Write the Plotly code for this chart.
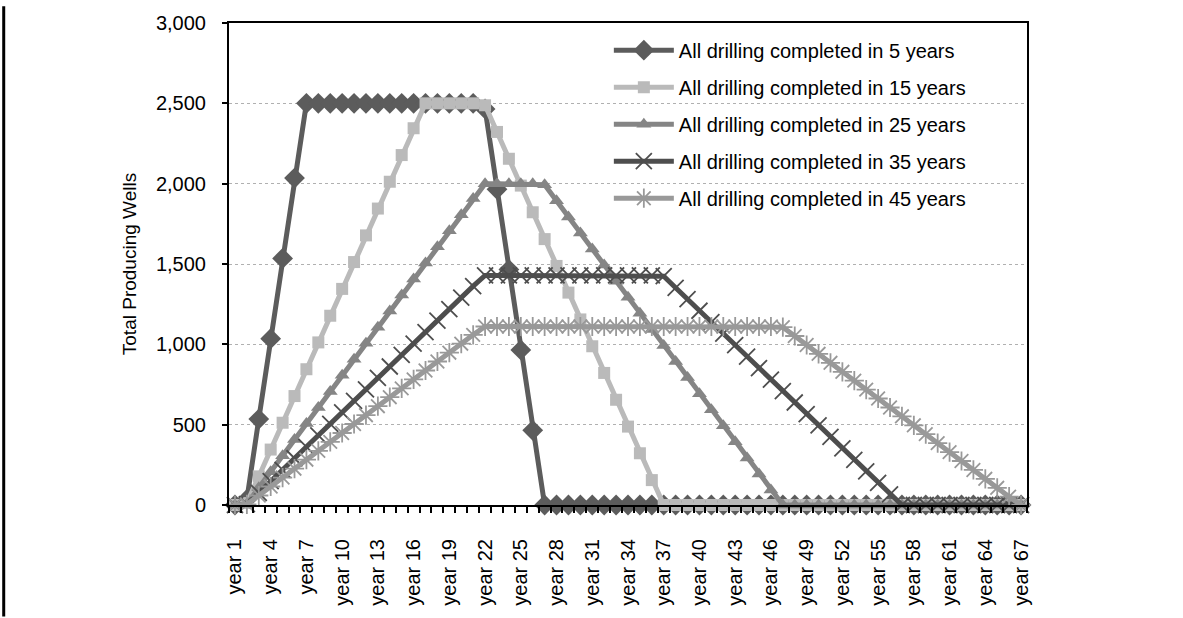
import plotly.graph_objects as go

categories = ["year %d" % i for i in range(1, 68)]

s5 = [0, 35, 535, 1035, 1535, 2035] + [2500] * 15 + [2465, 1965, 1465, 965, 465] + [0] * 41
s15 = [0, 12, 178, 345, 512, 678, 845, 1012, 1178, 1345, 1512, 1678, 1845, 2012, 2178, 2345,
       2500, 2500, 2500, 2500, 2500,
       2488, 2322, 2155, 1988, 1822, 1655, 1488, 1322, 1155, 988, 822, 655, 488, 322, 155] + [0] * 31
s25 = [0, 7, 107, 207, 307, 407, 507, 607, 707, 807, 907, 1007, 1107, 1207, 1307, 1407, 1507,
       1607, 1707, 1807, 1907, 2000, 2000, 2000, 2000, 2000, 1993, 1893, 1793, 1693, 1593, 1493,
       1393, 1293, 1193, 1093, 993, 893, 793, 693, 593, 493, 393, 293, 193, 93] + [0] * 21
s35 = [0, 5, 76, 148, 219, 291, 362, 434, 505, 576, 648, 719, 791, 862, 934, 1005, 1076, 1148,
       1219, 1291, 1362] + [1429] * 15 + [1424, 1352, 1281, 1209, 1138, 1066, 995, 924, 852, 781,
       709, 638, 566, 495, 424, 352, 281, 209, 138, 66] + [0] * 11
s45 = [0, 4, 59, 115, 171, 226, 282, 337, 393, 448, 504, 559, 615, 671, 726, 782, 837, 893, 948,
       1004, 1059] + [1111] * 25 + [1107, 1052, 996, 941, 885, 829, 774, 718, 663, 607, 552, 496,
       441, 385, 329, 274, 218, 163, 107, 52, 0]

series_names = ["All drilling completed in 5 years", "All drilling completed in 15 years",
                "All drilling completed in 25 years", "All drilling completed in 35 years",
                "All drilling completed in 45 years"]
series_values = [s5, s15, s25, s35, s45]
y_ticks = [0, 500, 1000, 1500, 2000, 2500, 3000]

colors = ["#5c5c5c", "#bababa", "#858585", "#4e4e4e", "#999999"]
symbols = ["diamond", "square", "triangle-up", "x-thin-open", "asterisk-open"]
msizes = [16, 12, 13, 16, 16]

xpos = list(range(1, len(categories) + 1))

fig = go.Figure()
for i, (name, vals) in enumerate(zip(series_names, series_values)):
    thin = symbols[i].endswith("open")
    fig.add_trace(go.Scatter(
        x=xpos, y=vals, name=name, mode="lines+markers",
        line=dict(color=colors[i], width=5),
        marker=dict(symbol=symbols[i], size=msizes[i], color=colors[i],
                    line=dict(color=colors[i], width=1.8 if thin else 0)),
        cliponaxis=False, legendgroup="g%d" % i,
    ))

font = "Liberation Sans, Arial, sans-serif"
fig.update_layout(
    width=1183, height=618,
    margin=dict(l=229, r=156, t=17, b=113),
    paper_bgcolor="white", plot_bgcolor="white",
    font=dict(family=font, size=20, color="black"),
    showlegend=True,
    legend=dict(x=0.476, y=0.984, xanchor="left", yanchor="top",
                bgcolor="rgba(0,0,0,0)", font=dict(size=20, family=font),
                tracegroupgap=8, traceorder="grouped", itemwidth=60),
    xaxis=dict(
        range=[0.5, len(categories) + 0.5],
        tickmode="array", tickvals=xpos[::3], ticktext=categories[::3],
        tickangle=-90, ticks="", showgrid=False, zeroline=False,
        ticklabelstandoff=24,
        showline=True, linecolor="black", linewidth=2, mirror=True,
        tickfont=dict(size=20, family=font),
        minor=dict(tickmode="array", tickvals=[v - 0.5 for v in xpos] + [xpos[-1] + 0.5],
                   ticks="outside", ticklen=6, tickcolor="black", tickwidth=1.5, showgrid=False),
    ),
    yaxis=dict(
        range=[0, 3000], tickmode="array", tickvals=y_ticks, tickformat=",",
        ticks="outside", ticklen=5, tickcolor="black", tickwidth=1.5,
        ticklabelstandoff=12,
        showgrid=True, gridcolor="#b0b0b0", griddash="dot", gridwidth=1.2,
        zeroline=False, showline=True, linecolor="black", linewidth=2, mirror=True,
        title=dict(text="Total Producing Wells", font=dict(size=19, family=font), standoff=14),
        tickfont=dict(size=20, family=font),
    ),
    shapes=[dict(type="line", xref="paper", yref="paper",
                 x0=-225 / 797, x1=-225 / 797, y0=-113 / 488, y1=505 / 488,
                 line=dict(color="black", width=3))],
)

fig.write_html("out.html", config={"displayModeBar": False},
               post_script="document.body.style.margin='0';")
